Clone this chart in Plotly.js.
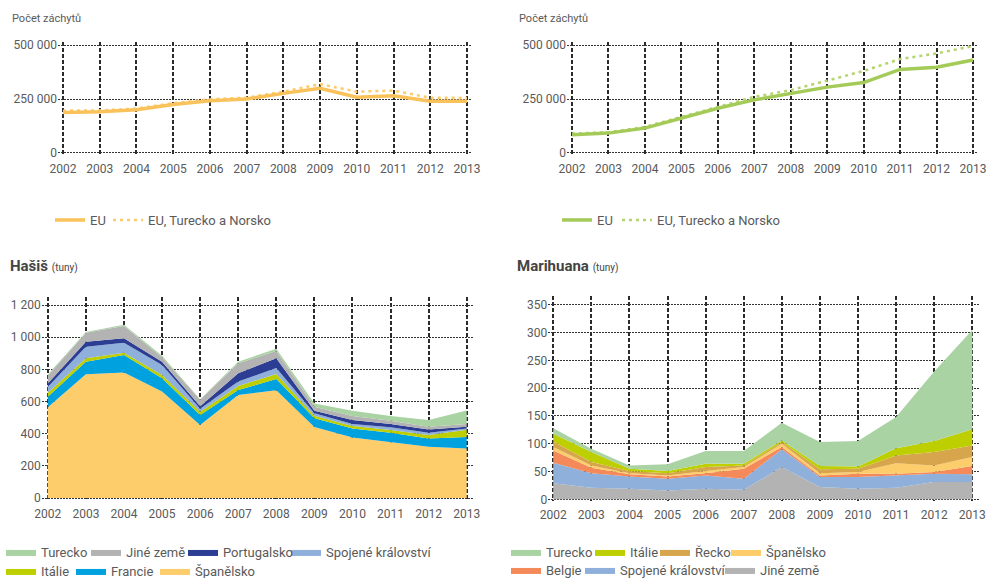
<!DOCTYPE html>
<html>
<head>
<meta charset="utf-8">
<script src="https://cdn.plot.ly/plotly-3.0.1.min.js"></script>
<style>html,body{margin:0;padding:0;background:#fff}#chart{width:989px;height:578px}</style>
</head>
<body>
<div id="chart"></div>
<script>
// ---------- DATA ----------
const years = [2002, 2003, 2004, 2005, 2006, 2007, 2008, 2009, 2010, 2011, 2012, 2013];

// Number of seizures – cannabis resin (left) and herbal cannabis (right)
const resinEU     = [188000, 191000, 200000, 225000, 242000, 250000, 276000, 300000, 258000, 265000, 240000, 240000];
const resinEUTRNO = [196000, 197000, 206000, 231000, 249000, 256000, 284000, 319000, 284000, 289000, 256000, 255000];
const herbEU      = [85000, 92000, 115000, 161000, 207000, 246000, 276000, 305000, 326000, 387000, 397000, 431000];
const herbEUTRNO  = [90000, 96000, 121000, 166000, 213000, 260000, 291000, 335000, 380000, 435000, 461000, 495000];

// Hashish quantities (tonnes), stacked bottom to top
const hashSpain    = [565, 770, 781, 662, 455, 641, 670, 442, 377, 350, 319, 308];
const hashFrance   = [65, 78, 109, 83, 61, 31, 70, 54, 56, 56, 52, 71];
const hashItaly    = [25, 21, 14, 20, 21, 25, 32, 16, 15, 17, 21, 46];
const hashUK       = [35, 72, 62, 63, 19, 27, 36, 16, 12, 17, 14, 7];
const hashPortugal = [23, 31, 27, 20, 15, 52, 62, 15, 25, 20, 21, 12];
const hashOther    = [47, 56, 77, 27, 41, 62, 44, 25, 25, 21, 16, 16];
const hashTurkey   = [8, 4, 8, 10, 3, 10, 14, 20, 33, 29, 42, 85];

// Herbal cannabis quantities (tonnes), stacked bottom to top
const marOther   = [29, 21, 19, 16, 19, 17, 58, 22, 19, 21, 31, 31];
const marUK      = [37, 26, 22, 21, 24, 20, 32, 18, 21, 22, 15, 14];
const marBelgium = [22, 10, 4, 4, 4, 18, 4, 3, 6, 3, 3, 15];
const marSpain   = [6, 4, 2, 2, 4, 3, 6, 4, 3, 19, 12, 16];
const marGreece  = [10, 6, 4, 4, 7, 3, 3, 7, 6, 14, 24, 21];
const marItaly   = [14, 18, 4, 4, 6, 3, 3, 6, 4, 13, 20, 29];
const marTurkey  = [10, 6, 6, 12, 23, 23, 32, 43, 46, 56, 125, 179];

// Tick labels
const countTicks = [0, 250000, 500000];
const countTickText = ['0', '250 000', '500 000'];
const hashTicks = [0, 200, 400, 600, 800, 1000, 1200];
const hashTickText = ['0', '200', '400', '600', '800', '1 000', '1 200'];
const marTicks = [0, 50, 100, 150, 200, 250, 300, 350];
const marTickText = ['0', '50', '100', '150', '200', '250', '300', '350'];

// ---------- CHART ----------
const W = 989, H = 578;
const FONT = 'Roboto, "Liberation Sans", Arial, sans-serif';
const TXT = '#5a5a5a';

function lgd(px, py) {
  return {x: px / W, y: 1 - py / H, xanchor: 'left', yanchor: 'middle', orientation: 'h',
          bgcolor: 'rgba(0,0,0,0)', borderwidth: 0, itemwidth: 30,
          font: {family: FONT, size: 13, color: TXT}};
}

function area(name, y, color, xa, ya, grp, legend) {
  return {type: 'scatter', mode: 'lines', x: years, y: y, name: name, stackgroup: grp,
          xaxis: xa, yaxis: ya, fillcolor: color, line: {width: 0, color: color},
          legend: legend, hoverinfo: 'x+y+name'};
}

const traces = [
  {type: 'scatter', mode: 'lines', x: years, y: resinEUTRNO, name: 'EU, Turecko a Norsko',
   xaxis: 'x', yaxis: 'y', line: {color: '#FCCB6A', width: 2.5, dash: '3px,4px'}, legend: 'legend2'},
  {type: 'scatter', mode: 'lines', x: years, y: resinEU, name: 'EU',
   xaxis: 'x', yaxis: 'y', line: {color: '#FAC25A', width: 3.5}, legend: 'legend'},
  {type: 'scatter', mode: 'lines', x: years, y: herbEUTRNO, name: 'EU, Turecko a Norsko',
   xaxis: 'x2', yaxis: 'y2', line: {color: '#B3D46C', width: 2.5, dash: '3px,4px'}, legend: 'legend4'},
  {type: 'scatter', mode: 'lines', x: years, y: herbEU, name: 'EU',
   xaxis: 'x2', yaxis: 'y2', line: {color: '#A4CB58', width: 3.5}, legend: 'legend3'},

  area('Španělsko', hashSpain, '#FDCD6B', 'x3', 'y3', 'hash', 'legend11'),
  area('Francie', hashFrance, '#00A1DF', 'x3', 'y3', 'hash', 'legend10'),
  area('Itálie', hashItaly, '#BDCF00', 'x3', 'y3', 'hash', 'legend9'),
  area('Spojené království', hashUK, '#8FB0DB', 'x3', 'y3', 'hash', 'legend8'),
  area('Portugalsko', hashPortugal, '#2C3E94', 'x3', 'y3', 'hash', 'legend7'),
  area('Jiné země', hashOther, '#B3B3B3', 'x3', 'y3', 'hash', 'legend6'),
  area('Turecko', hashTurkey, '#AAD3A4', 'x3', 'y3', 'hash', 'legend5'),

  area('Jiné země', marOther, '#B3B3B3', 'x4', 'y4', 'mar', 'legend18'),
  area('Spojené království', marUK, '#8FB0DB', 'x4', 'y4', 'mar', 'legend17'),
  area('Belgie', marBelgium, '#F4895A', 'x4', 'y4', 'mar', 'legend16'),
  area('Španělsko', marSpain, '#FDCD6B', 'x4', 'y4', 'mar', 'legend15'),
  area('Řecko', marGreece, '#D7A64C', 'x4', 'y4', 'mar', 'legend14'),
  area('Itálie', marItaly, '#BDCF00', 'x4', 'y4', 'mar', 'legend13'),
  area('Turecko', marTurkey, '#AAD3A4', 'x4', 'y4', 'mar', 'legend12')
];

function xax(d0, d1, r0, r1, anchor, standoff) {
  return {domain: [d0 / W, d1 / W], range: [r0, r1], anchor: anchor, tickvals: years,
          showgrid: true, gridcolor: '#2a2a2a', gridwidth: 2, griddash: '4px,2px',
          zeroline: false, showline: false, ticks: '', fixedrange: true,
          ticklabelstandoff: standoff,
          tickfont: {family: FONT, size: 12, color: TXT}};
}
function yax(top, bottom, r0, r1, tv, tt, anchor) {
  return {domain: [1 - bottom / H, 1 - top / H], range: [r0, r1], anchor: anchor,
          tickvals: tv, ticktext: tt, showgrid: true, gridcolor: '#333', gridwidth: 1,
          griddash: '2px,1px', zeroline: false, showline: false, ticks: '', fixedrange: true,
          tickfont: {family: FONT, size: 12, color: TXT}};
}

const layout = {
  width: W, height: H, margin: {l: 0, r: 0, t: 0, b: 0, autoexpand: false},
  paper_bgcolor: '#fff', plot_bgcolor: 'rgba(0,0,0,0)',
  font: {family: FONT, color: TXT},
  xaxis:  xax(57.9, 472.1, 2001.86, 2013.14, 'y', 4),
  yaxis:  yax(42, 156, -14000, 514000, countTicks, countTickText, 'x'),
  xaxis2: xax(566.9, 978.1, 2001.86, 2013.14, 'y2', 4),
  yaxis2: yax(42, 156, -14000, 514000, countTicks, countTickText, 'x2'),
  xaxis3: xax(41.7, 472.8, 2001.84, 2013.16, 'y3', 5),
  yaxis3: yax(296.7, 500, -12, 1252, hashTicks, hashTickText, 'x3'),
  xaxis4: xax(548.3, 979.5, 2001.87, 2013.19, 'y4', 5),
  yaxis4: yax(296, 500.7, -2.5, 366, marTicks, marTickText, 'x4'),
  showlegend: true,
  legend: lgd(50, 220), legend2: lgd(108, 220),
  legend3: lgd(557, 220), legend4: lgd(617, 220),
  legend5: lgd(1, 552), legend6: lgd(86, 552), legend7: lgd(183, 552), legend8: lgd(286, 552),
  legend9: lgd(1, 571), legend10: lgd(71, 571), legend11: lgd(155, 571),
  legend12: lgd(506, 552), legend13: lgd(590, 552), legend14: lgd(655, 552), legend15: lgd(726, 552),
  legend16: lgd(506, 570), legend17: lgd(580, 570), legend18: lgd(720, 570),
  annotations: [
    {text: 'Počet záchytů', xref: 'paper', yref: 'paper', x: 10 / W, y: 1 - 18 / H,
     xanchor: 'left', yanchor: 'middle', showarrow: false, font: {family: FONT, size: 11, color: TXT}},
    {text: 'Počet záchytů', xref: 'paper', yref: 'paper', x: 517 / W, y: 1 - 18 / H,
     xanchor: 'left', yanchor: 'middle', showarrow: false, font: {family: FONT, size: 11, color: TXT}},
    {text: '<b>Hašiš</b> <span style="font-size:10px">(tuny)</span>', xref: 'paper', yref: 'paper',
     x: 8 / W, y: 1 - 266 / H, xanchor: 'left', yanchor: 'middle', showarrow: false,
     font: {family: FONT, size: 15, color: '#444'}},
    {text: '<b>Marihuana</b> <span style="font-size:10px">(tuny)</span>', xref: 'paper', yref: 'paper',
     x: 515 / W, y: 1 - 266 / H, xanchor: 'left', yanchor: 'middle', showarrow: false,
     font: {family: FONT, size: 15, color: '#444'}}
  ]
};

Plotly.newPlot('chart', traces, layout, {displayModeBar: false, staticPlot: true});
</script>
</body>
</html>
